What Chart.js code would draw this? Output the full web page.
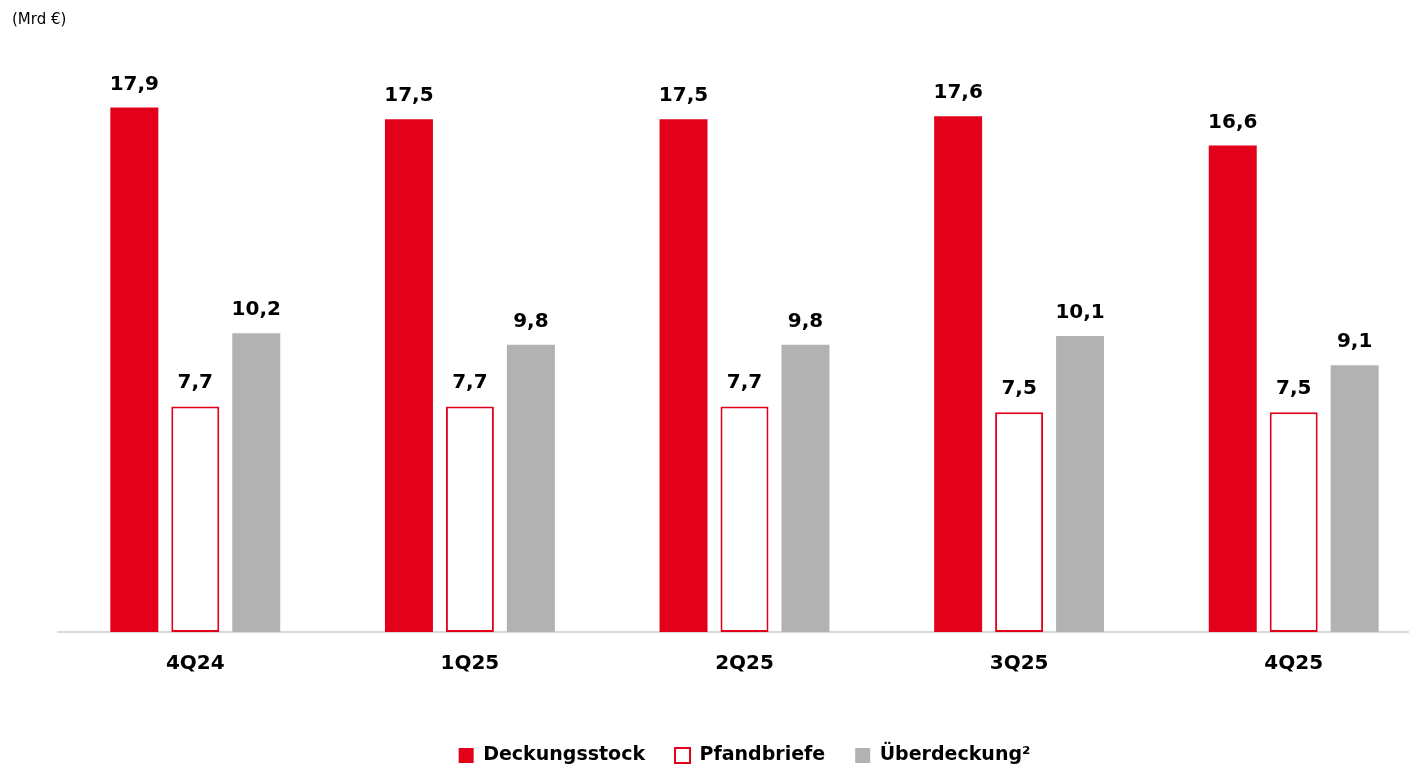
<!DOCTYPE html>
<html>
<head>
<meta charset="utf-8">
<script src="https://cdn.jsdelivr.net/npm/chart.js@4.4.1/dist/chart.umd.min.js"></script>
<style>
  html, body { margin: 0; padding: 0; background: #fff; overflow: hidden; }
  canvas { display: block; }
</style>
</head>
<body>
<canvas id="chart" width="1482" height="775"></canvas>
<script>
// quarters and values (Mrd €)
const quarters = ['4Q24', '1Q25', '2Q25', '3Q25', '4Q25'];
const deckungsstock = [17.9, 17.5, 17.5, 17.6, 16.6];
const pfandbriefe = [7.7, 7.7, 7.7, 7.5, 7.5];
const ueberdeckung = [10.2, 9.8, 9.8, 10.1, 9.1];
const unitLabel = '(Mrd €)';

const red = '#e2001a';
const grey = '#b2b2b2';
const fontName = '"DejaVu Sans", sans-serif';

// values above bars (german comma) + unit in the corner
const valueLabels = {
    id: 'valueLabels',
    afterDatasetsDraw(chart) {
        const ctx = chart.ctx;
        ctx.save();
        ctx.font = 'bold 20px ' + fontName;
        ctx.fillStyle = '#000';
        ctx.textAlign = 'center';
        ctx.textBaseline = 'alphabetic';
        chart.data.datasets.forEach(function (ds, i) {
            const meta = chart.getDatasetMeta(i);
            meta.data.forEach(function (bar, j) {
                const txt = ds.data[j].toFixed(1).replace('.', ',');
                ctx.fillText(txt, bar.x, bar.y - 18);
            });
        });
        ctx.font = '15px ' + fontName;
        ctx.textAlign = 'left';
        ctx.textBaseline = 'middle';
        ctx.fillText(unitLabel, 12, 20);
        ctx.restore();
    }
};

const ctx = document.getElementById('chart').getContext('2d');
const myChart = new Chart(ctx, {
    type: 'bar',
    data: {
        labels: quarters,
        datasets: [{
            label: 'Deckungsstock',
            data: deckungsstock,
            backgroundColor: red,
            borderWidth: 0
        }, {
            label: 'Pfandbriefe',
            data: pfandbriefe,
            backgroundColor: '#fff',
            borderColor: red,
            borderWidth: 2,
            borderSkipped: false
        }, {
            label: 'Überdeckung²',
            data: ueberdeckung,
            backgroundColor: grey,
            borderWidth: 0
        }]
    },
    options: {
        responsive: false,
        animation: false,
        devicePixelRatio: 1,
        layout: { padding: { left: 58, right: 51, top: 46, bottom: 0 } },
        datasets: {
            bar: { categoryPercentage: 0.666, barPercentage: 0.787 }
        },
        scales: {
            x: {
                grid: { display: false, drawTicks: false },
                border: { display: true, color: '#d9d9d9', width: 2 },
                ticks: {
                    color: '#000',
                    padding: 20,
                    maxRotation: 0,
                    font: { family: fontName, size: 20, weight: 'bold' }
                },
                afterFit(scale) { scale.height += 20; }
            },
            y: {
                display: false,
                min: 0,
                max: 20
            }
        },
        plugins: {
            legend: {
                position: 'bottom',
                labels: {
                    color: '#000',
                    boxWidth: 15,
                    boxHeight: 15,
                    padding: 30,
                    font: { family: fontName, size: 19, weight: 'bold' }
                }
            },
            tooltip: { enabled: false }
        }
    },
    plugins: [valueLabels]
});
</script>
</body>
</html>
